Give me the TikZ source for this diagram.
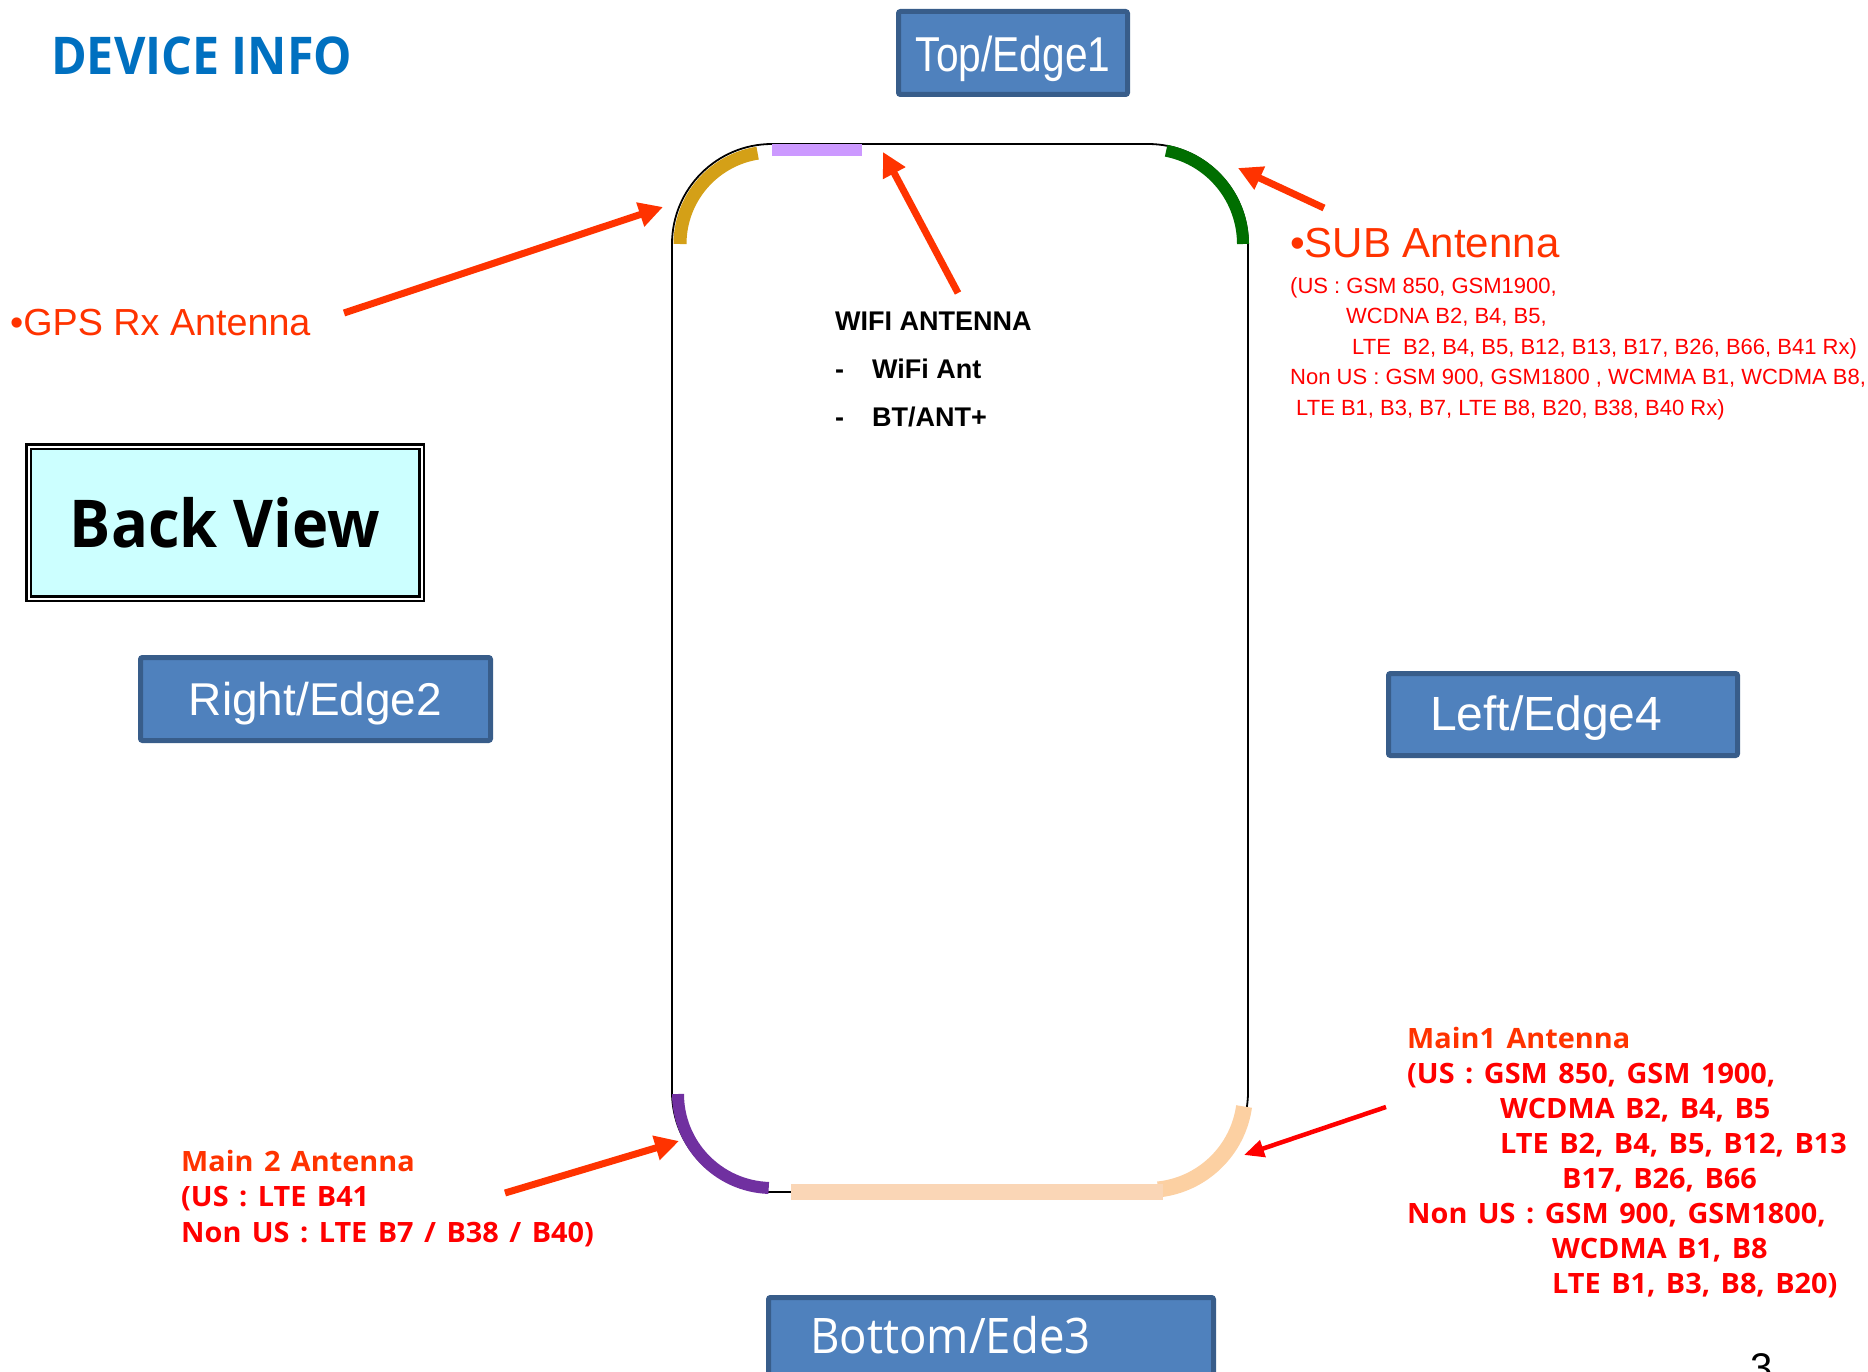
\documentclass[tikz,border=0pt]{standalone}
\usepackage{fontspec}
\setmainfont{Liberation Sans}
\newfontfamily\arialfont{Liberation Sans}
\newfontfamily\arialnarrow[FakeStretch=0.83]{Liberation Sans}
\newfontfamily\headfont[FakeStretch=0.93]{Open Sans}
\newfontfamily\labelfont[FakeStretch=1.03, WordSpace=1.4]{Open Sans}
\usetikzlibrary{arrows.meta}

\definecolor{devblue}{RGB}{0,112,192}
\definecolor{antorange}{RGB}{255,51,0}
\definecolor{antred}{RGB}{255,0,0}
\definecolor{edgefill}{RGB}{79,129,189}
\definecolor{edgedraw}{RGB}{56,93,138}
\definecolor{backcyan}{RGB}{204,255,255}
\definecolor{gpsgold}{RGB}{212,160,23}
\definecolor{wifililac}{RGB}{204,153,255}
\definecolor{subgreen}{RGB}{0,110,0}
\definecolor{mainpurple}{RGB}{112,48,160}
\definecolor{mainpeach}{RGB}{252,208,162}
\definecolor{barpeach}{RGB}{250,214,182}

\tikzset{
  lbl/.style={inner sep=0pt},
  edgebox/.style={fill=edgefill, draw=edgedraw, line width=5pt, text=white, inner ysep=0pt, rounded corners=2pt},
  antarrow/.style={-{Triangle[length=24pt,width=24pt]}, line width=7pt, antorange},
}

\begin{document}
\begin{tikzpicture}[x=1pt, y=1pt]
    \useasboundingbox (0,0) rectangle (1868,-1372);

    % phone outline
    \draw[line width=1.8pt, rounded corners=100pt] (672,-144) rectangle (1248,-1192);
    \coordinate (ctl) at (772,-244);
    \coordinate (ctr) at (1148,-244);
    \coordinate (cbl) at (772,-1094);
    \coordinate (cbr) at (1148,-1093);

    % antennas
    \draw[gpsgold, line width=13pt] (ctl) ++(180:92pt) arc[start angle=180, end angle=99, radius=92pt];
    \fill[wifililac] (772,-144) rectangle (862,-156);
    \draw[subgreen, line width=12pt] (ctr) ++(79:95pt) arc[start angle=79, end angle=0, radius=95pt];
    \draw[mainpurple, line width=12pt] (cbl) ++(180:94pt) arc[start angle=180, end angle=268, radius=94pt];
    \draw[mainpeach, line width=16pt] (cbr) ++(-8:97pt) arc[start angle=-8, end angle=-84, radius=97pt];
    \fill[barpeach] (791,-1184) rectangle (1163,-1200);

    % titles and edges
    \node (title) [lbl, anchor=base west, text=devblue, font=\headfont\bfseries\fontsize{52}{60}\selectfont] at (51,-75) {DEVICE INFO};
    \node (back) [draw, double=white, line width=2.5pt, double distance=2pt, fill=backcyan, minimum width=393pt, minimum height=152pt, inner sep=0pt, font=\headfont\bfseries\fontsize{66}{72}\selectfont] at (225,-522.5) {Back View};
    \node (top) [edgebox, minimum width=229pt, text height=60.5pt, text depth=22.5pt, font=\arialnarrow\fontsize{49}{55}\selectfont] at (1013,-53) {Top/Edge1};
    \node (right) [edgebox, minimum width=350pt, text height=57.5pt, text depth=25.5pt, font=\arialfont\fontsize{46}{52}\selectfont] at (315.5,-699) {Right/Edge2};
    \node (left) [edgebox, inner xsep=41.5pt, text width=266pt, align=left, text height=56.5pt, text depth=25.5pt, font=\arialfont\fontsize{48}{54}\selectfont] at (1563,-714.5) {Left/Edge4};
    \node (bottom) [edgebox, inner xsep=41.5pt, text width=362pt, align=left, text height=55.5pt, text depth=42pt, font=\headfont\fontsize{49}{55}\selectfont] at (991,-1346.25) {Bottom/Ede3};

    % antenna labels
    \node (gps) [lbl, anchor=base west, text=antorange, font=\arialfont\fontsize{37.7}{44}\selectfont] at (10,-335) {•GPS Rx Antenna};
    \node (sub) [lbl, anchor=base west, text=antorange, font=\arialfont\fontsize{42}{48}\selectfont] at (1290,-258) {•SUB Antenna};
    \node (subbands) [lbl, anchor=north west, align=left, text=antred, font=\arialfont\fontsize{22}{30.5}\selectfont] at (1290,-277) {(US : GSM 850, GSM1900,\\
        \hspace*{56pt}WCDNA B2, B4, B5,\\
        \hspace*{62pt}LTE\ \ B2, B4, B5, B12, B13, B17, B26, B66, B41 Rx)\\
        Non US : GSM 900, GSM1800 , WCMMA B1, WCDMA B8,\\
        \hspace*{6pt}LTE B1, B3, B7, LTE B8, B20, B38, B40 Rx)};
    \node (wifi) [lbl, anchor=north west, align=left, font=\arialfont\bfseries\fontsize{27}{48}\selectfont] at (835,-311.7) {WIFI ANTENNA\\
        \makebox[37pt][l]{-}WiFi Ant\\
        \makebox[37pt][l]{-}BT/ANT+};
    \node (main2) [lbl, anchor=north west, align=left, text=antred, font=\labelfont\bfseries\fontsize{28}{35.5}\selectfont] at (181,-1149.7) {{\color{antorange}Main 2 Antenna}\\
        (US : LTE B41\\
        Non US : LTE B7 / B38 / B40)};
    \node (main1) [lbl, anchor=north west, align=left, text=antred, font=\labelfont\bfseries\fontsize{28}{35}\selectfont] at (1407,-1026.7) {{\color{antorange}Main1 Antenna}\\
        (US : GSM 850, GSM 1900,\\
        \hspace*{93pt}WCDMA B2, B4, B5\\
        \hspace*{93pt}LTE B2, B4, B5, B12, B13\\
        \hspace*{155pt}B17, B26, B66\\
        Non US : GSM 900, GSM1800,\\
        \hspace*{145pt}WCDMA B1, B8\\
        \hspace*{145pt}LTE B1, B3, B8, B20)};
    \node (pagenum) [lbl, anchor=base west, font=\arialfont\fontsize{40}{44}\selectfont] at (1750,-1381.6) {3};

    % arrows
    \coordinate (gpstail) at (344,-313);
    \coordinate (gpstip) at (663,-207);
    \coordinate (wifitail) at (958,-293);
    \coordinate (wifitip) at (883,-152);
    \coordinate (subtail) at (1324,-208);
    \coordinate (subtip) at (1238,-168);
    \coordinate (main2tail) at (505,-1193);
    \coordinate (main2tip) at (679,-1141);
    \coordinate (main1tail) at (1386,-1107);
    \coordinate (main1tip) at (1244,-1155);

    \draw[antarrow] (gpstail) -- (gpstip);
    \draw[antarrow] (wifitail) -- (wifitip);
    \draw[antarrow] (subtail) -- (subtip);
    \draw[antarrow] (main2tail) -- (main2tip);
    \draw[antarrow, antred, line width=4.5pt, -{Triangle[length=20pt,width=17pt]}] (main1tail) -- (main1tip);

\end{tikzpicture}
\end{document}
